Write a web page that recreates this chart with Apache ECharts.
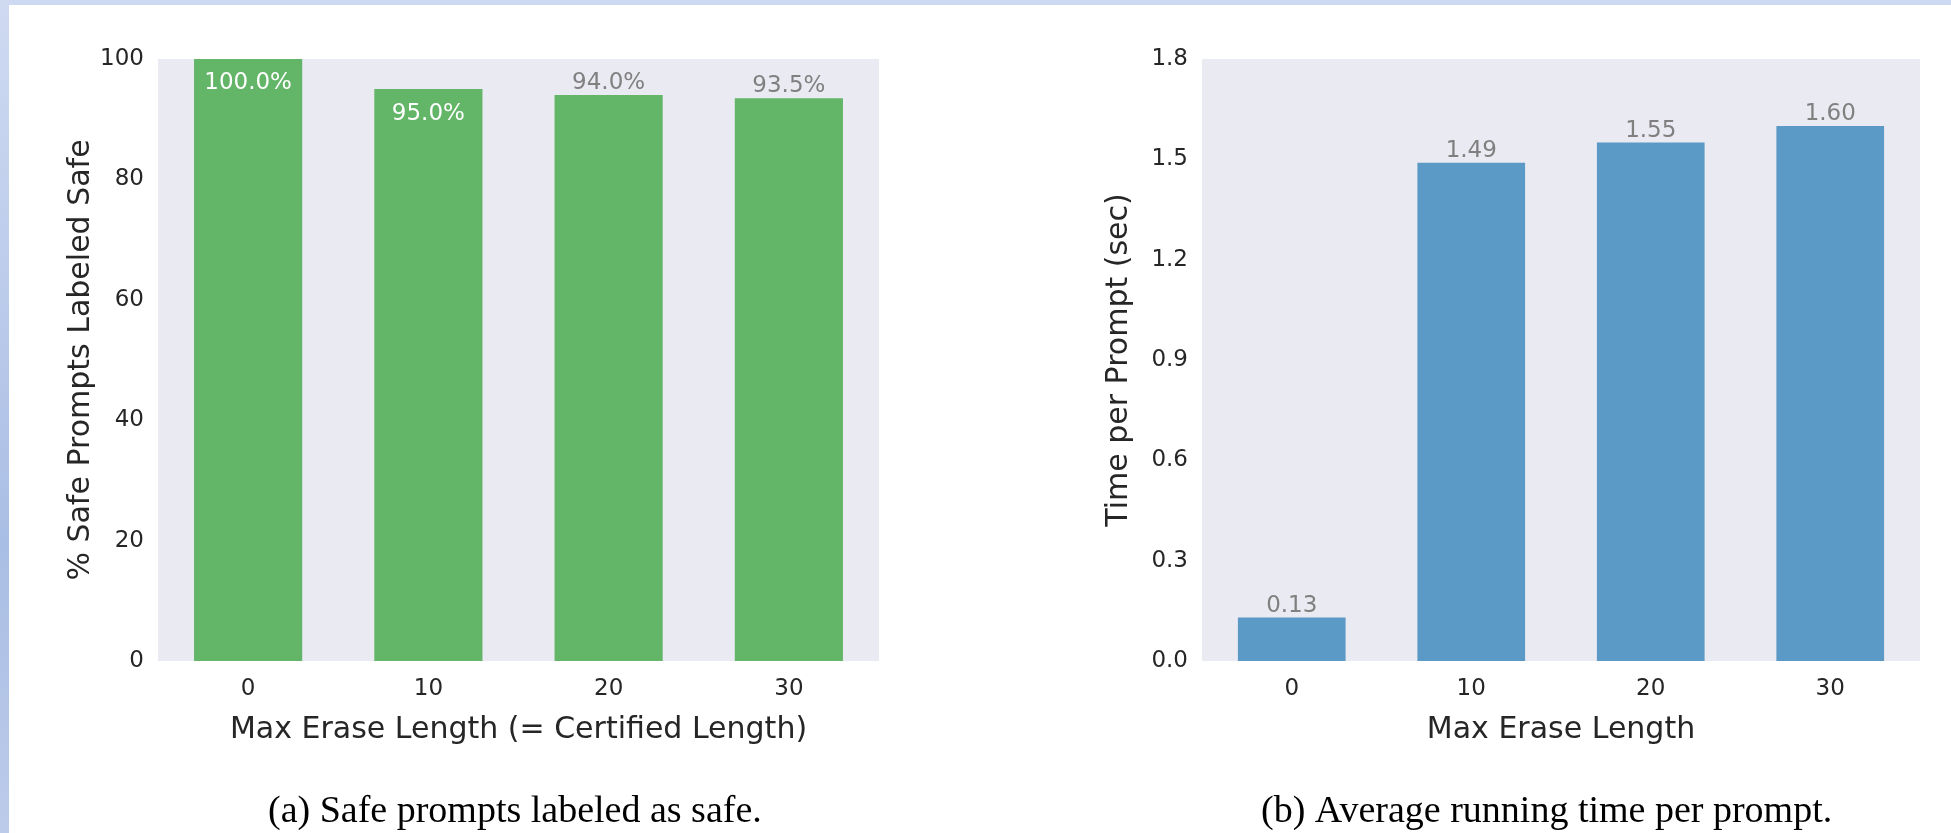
<!DOCTYPE html>
<html>
<head>
<meta charset="utf-8">
<script src="https://cdn.jsdelivr.net/npm/echarts@6/dist/echarts.min.js"></script>
<style>
    html, body { margin: 0; padding: 0; background: #ffffff; }
    #stripeTop { position: absolute; left: 0; top: 0; width: 1951px; height: 5px; background: #cdd9f0; }
    #stripeLeft { position: absolute; left: 0; top: 0; width: 9px; height: 833px;
        background: linear-gradient(to bottom, #cfdaf1 0%, #b3c5e8 50%, #a9bee4 65%, #bccbea 100%); }
    #chart { position: absolute; left: 0; top: 0; width: 1951px; height: 833px; }
</style>
</head>
<body>
<div id="stripeTop"></div>
<div id="stripeLeft"></div>
<div id="chart"></div>
<script>
    // data
    const eraseLengths = ['0', '10', '20', '30']
    const safeLabeled = [100.0, 95.0, 94.0, 93.5]
    const timePerPrompt = [0.13, 1.49, 1.55, 1.60]
    const safeTicks = { min: 0, max: 100, interval: 20 }
    const timeTicks = { min: 0, max: 1.8, interval: 0.3 }
    const captions = ['(a) Safe prompts labeled as safe.', '(b) Average running time per prompt.']

    const font = 'DejaVu Sans'
    const textColor = '#262626'
    const tickSize = 23
    const nameSize = 30

    const chart = echarts.init(document.getElementById('chart'))

    function xAxisFor (idx, name) {
        return {
            gridIndex: idx,
            type: 'category',
            data: eraseLengths,
            name,
            nameLocation: 'middle',
            nameGap: 54,
            nameTextStyle: { fontFamily: font, fontSize: nameSize, color: textColor },
            axisLine: { show: false },
            axisTick: { show: false },
            splitLine: { show: false },
            axisLabel: { fontFamily: font, fontSize: tickSize, color: textColor, margin: 17 }
        }
    }

    function yAxisFor (idx, name, ticks, fmt, gap) {
        return {
            gridIndex: idx,
            type: 'value',
            min: ticks.min,
            max: ticks.max,
            interval: ticks.interval,
            name,
            nameLocation: 'middle',
            nameGap: gap,
            nameTextStyle: { fontFamily: font, fontSize: nameSize, color: textColor },
            axisLine: { show: false },
            axisTick: { show: false },
            splitLine: { show: false },
            axisLabel: { fontFamily: font, fontSize: tickSize, color: textColor, margin: 14, formatter: fmt }
        }
    }

    // tall bars get their label inside in white, the rest sit on top in grey
    const safeData = safeLabeled.map(v => {
        const inside = v >= 95
        return {
            value: v,
            label: inside
                ? { position: 'insideTop', distance: 13, color: '#ffffff' }
                : { position: 'top', distance: 1, color: '#808080' }
        }
    })

    const option = {
        animation: false,
        grid: [
            { left: 158, right: 1072, top: 59, bottom: 172, show: true, backgroundColor: '#eaeaf2', borderWidth: 0 },
            { left: 1202, right: 31, top: 59, bottom: 172, show: true, backgroundColor: '#eaeaf2', borderWidth: 0 }
        ],
        xAxis: [
            xAxisFor(0, 'Max Erase Length (= Certified Length)'),
            xAxisFor(1, 'Max Erase Length')
        ],
        yAxis: [
            yAxisFor(0, '% Safe Prompts Labeled Safe', safeTicks, v => String(v), 62),
            yAxisFor(1, 'Time per Prompt (sec)', timeTicks, v => v.toFixed(1), 68)
        ],
        series: [
            {
                type: 'bar',
                xAxisIndex: 0,
                yAxisIndex: 0,
                barWidth: '60%',
                itemStyle: { color: '#63b567' },
                label: {
                    show: true,
                    fontFamily: font,
                    fontSize: 23,
                    formatter: p => p.value.toFixed(1) + '%'
                },
                data: safeData
            },
            {
                type: 'bar',
                xAxisIndex: 1,
                yAxisIndex: 1,
                barWidth: '60%',
                itemStyle: { color: '#5b9ac6' },
                label: {
                    show: true,
                    position: 'top',
                    distance: 0,
                    fontFamily: font,
                    fontSize: 23,
                    color: '#808080',
                    formatter: p => p.value.toFixed(2)
                },
                data: timePerPrompt
            }
        ],
        graphic: [
            {
                type: 'text',
                left: 518 - 250,
                top: 793,
                style: { text: captions[0], fontFamily: 'Liberation Serif', fontSize: 38, fill: '#000000', width: 500, align: 'center' }
            },
            {
                type: 'text',
                left: 1561 - 300,
                top: 793,
                style: { text: captions[1], fontFamily: 'Liberation Serif', fontSize: 38, fill: '#000000', width: 600, align: 'center' }
            }
        ]
    }

    chart.setOption(option)
</script>
</body>
</html>
